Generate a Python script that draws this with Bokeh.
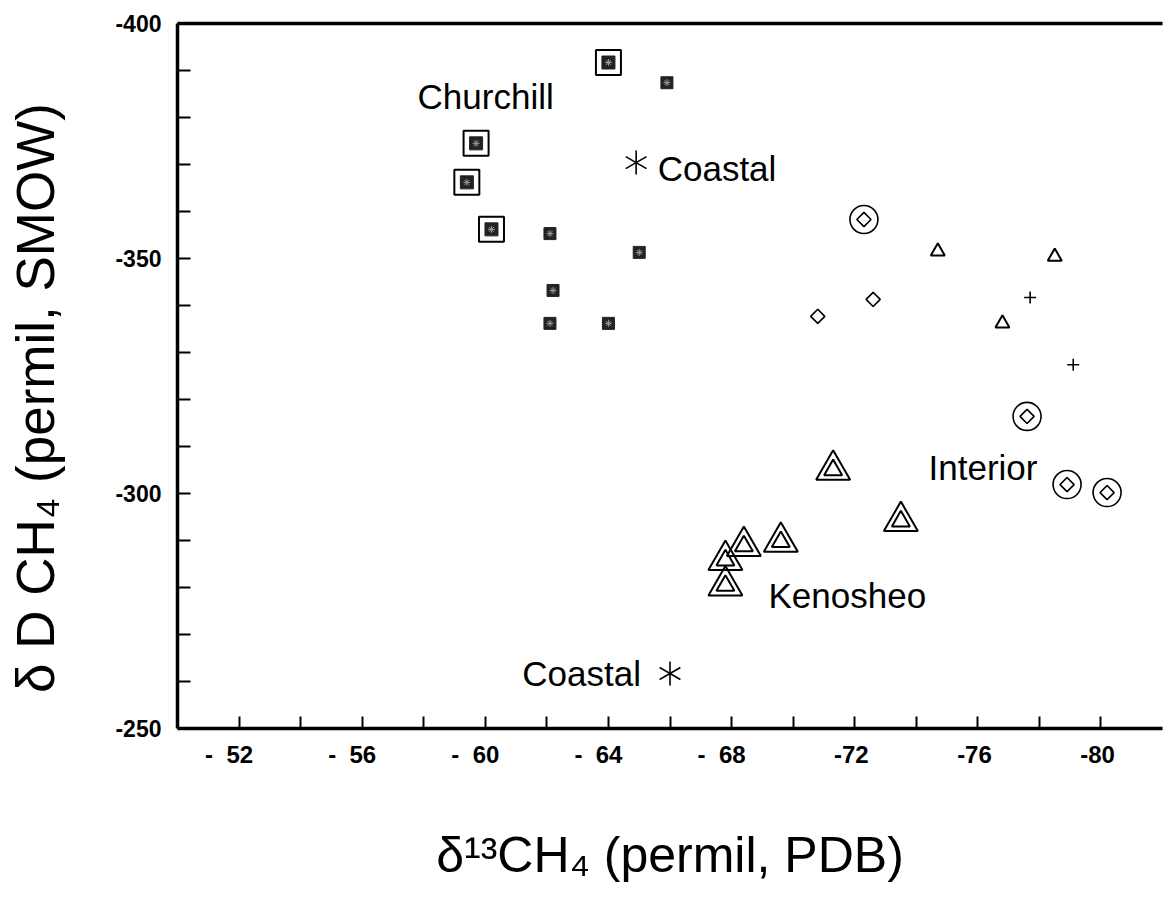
import math
from bokeh.plotting import figure
from bokeh.models import Range1d, FixedTicker, LinearAxis, ColumnDataSource
from bokeh.core.properties import value
from bokeh.embed import file_html
from bokeh.resources import INLINE

# ---------------- data ----------------
churchill_big_x = [-64.0, -59.7, -59.4, -60.2]
churchill_big_y = [-391.7, -374.5, -366.2, -356.2]
churchill_small_x = [-65.9, -62.1, -65.0, -62.2, -62.1, -64.0]
churchill_small_y = [-387.4, -355.3, -351.3, -343.2, -336.2, -336.2]
coastal_x = [-64.9, -66.0]
coastal_y = [-370.4, -261.7]
interior_big_x = [-72.3, -77.6, -78.9, -80.2]
interior_big_y = [-358.3, -316.4, -301.9, -300.2]
interior_diamond_x = [-72.6, -70.8]
interior_diamond_y = [-341.3, -337.7]
interior_tri_x = [-74.7, -78.5, -76.8]
interior_tri_y = [-351.5, -350.4, -336.2]
interior_plus_x = [-77.7, -79.1]
interior_plus_y = [-341.7, -327.4]
kenosheo_x = [-71.3, -73.5, -69.6, -68.4, -67.8, -67.8]
kenosheo_y = [-305.0, -294.1, -289.7, -288.8, -285.8, -280.4]

group_labels = ["Churchill", "Coastal", "Coastal", "Interior", "Kenosheo"]
group_label_x = [-57.8, -65.6, -61.2, -74.4, -69.2]
group_label_y = [-384.5, -369.1, -261.7, -305.5, -278.3]

NB = "\u00a0"
x_ticks = list(range(-52, -81, -2))
x_labeled = [-52, -56, -60, -64, -68, -72, -76, -80]
x_tick_text = ["-" + NB * 2 + "52" + NB * 3, "-" + NB * 2 + "56" + NB * 3,
               "-" + NB * 2 + "60" + NB * 3, "-" + NB * 2 + "64" + NB * 3,
               "-" + NB * 2 + "68" + NB * 3, "-72" + NB, "-76" + NB, "-80" + NB]
y_ticks = list(range(-400, -249, 10))
y_labeled = [-400, -350, -300, -250]
y_tick_text = ["-400", "-350", "-300", "-250"]

x_title = "δ¹³CH₄ (permil, PDB)"
y_title = "δ D CH₄ (permil, SMOW)" + NB * 3

X_START, X_END = -50, -82
Y_START, Y_END = -250, -400

# ---------------- layout ----------------
W, H = 1164, 908
FR_L, FR_R, FR_T, FR_B = 177, 1162, 23, 728
FONT = "Liberation Sans"

p = figure(width=W, height=H, output_backend="svg", toolbar_location=None,
           x_range=Range1d(X_START, X_END), y_range=Range1d(Y_START, Y_END),
           min_border_left=FR_L, min_border_right=W - FR_R,
           min_border_top=FR_T, min_border_bottom=H - FR_B,
           x_axis_location="below", y_axis_location="left")
p.background_fill_color = "white"
p.border_fill_color = "white"
p.outline_line_color = None
p.xgrid.visible = False
p.ygrid.visible = False

xo = {float(t): "" for t in x_ticks}
for t, s in zip(x_labeled, x_tick_text):
    xo[float(t)] = s
yo = {float(t): "" for t in y_ticks}
for t, s in zip(y_labeled, y_tick_text):
    yo[float(t)] = s

xa = p.xaxis[0]
xa.ticker = FixedTicker(ticks=x_ticks)
xa.major_label_overrides = xo
ya = p.yaxis[0]
ya.ticker = FixedTicker(ticks=y_ticks)
ya.major_label_overrides = yo
for ax in (xa, ya):
    ax.axis_line_width = 3.5
    ax.axis_line_color = "black"
    ax.major_tick_in = 12
    ax.major_tick_out = 0
    ax.major_tick_line_width = 2
    ax.major_tick_line_color = "black"
    ax.minor_tick_line_color = None
    ax.major_label_text_font = FONT
    ax.major_label_text_font_style = "bold"
    ax.major_label_text_color = "black"
    ax.axis_label_text_font = FONT
    ax.axis_label_text_font_style = "normal"
    ax.axis_label_text_color = "black"
xa.major_label_text_font_size = "24px"
xa.major_label_standoff = 12
xa.axis_label = x_title
xa.axis_label_text_font_size = "50px"
xa.axis_label_standoff = 56
ya.major_label_text_font_size = "23px"
ya.major_label_standoff = 16
ya.major_tick_in = 13
ya.axis_label = y_title
ya.axis_label_text_font_size = "53px"
ya.axis_label_standoff = 47

top = LinearAxis(ticker=FixedTicker(ticks=[]), axis_line_width=3.5,
                 major_tick_line_color=None, minor_tick_line_color=None,
                 major_label_text_font_size="0px")
p.add_layout(top, "above")

# ---------------- marks ----------------
# Churchill: framed squares and small filled squares
p.scatter(churchill_big_x, churchill_big_y, marker="square", size=25,
          fill_color=None, line_color="black", line_width=2)
p.scatter(churchill_big_x, churchill_big_y, marker="square", size=13,
          fill_color="#222222", line_color="#222222", line_width=1)
p.scatter(churchill_big_x, churchill_big_y, marker="asterisk", size=7,
          line_color="#9a9a9a", line_width=1)
p.scatter(churchill_small_x, churchill_small_y, marker="square", size=12,
          fill_color="#222222", line_color="#222222", line_width=1)
p.scatter(churchill_small_x, churchill_small_y, marker="asterisk", size=7,
          line_color="#9a9a9a", line_width=1)

# Coastal: six-armed asterisks
for ang in (math.pi / 2, math.pi / 6, 5 * math.pi / 6):
    p.scatter(coastal_x, coastal_y, marker="dash", size=24, angle=ang,
              line_color="black", line_width=1.6)

# Interior
p.scatter(interior_big_x, interior_big_y, marker="circle", size=28,
          fill_color=None, line_color="black", line_width=1.6)
p.scatter(interior_big_x, interior_big_y, marker="square", size=10, angle=math.pi / 4,
          fill_color=None, line_color="black", line_width=1.6)
p.scatter(interior_diamond_x, interior_diamond_y, marker="square", size=10, angle=math.pi / 4,
          fill_color=None, line_color="black", line_width=1.6)
p.scatter(interior_tri_x, interior_tri_y, marker="triangle", size=14,
          fill_color=None, line_color="black", line_width=2)
p.scatter(interior_plus_x, interior_plus_y, marker="cross", size=12,
          line_color="black", line_width=1.6)

# Kenosheo: double triangles
p.scatter(kenosheo_x, kenosheo_y, marker="triangle", size=34,
          fill_color=None, line_color="black", line_width=2)
p.scatter(kenosheo_x, kenosheo_y, marker="triangle", size=18,
          fill_color=None, line_color="black", line_width=2)

# group names
src = ColumnDataSource(dict(x=group_label_x, y=group_label_y, t=group_labels))
p.text(x="x", y="y", text="t", source=src, text_font=value(FONT),
       text_font_size="35px", text_align="left", text_baseline="alphabetic",
       text_color="black")

open("out.html", "w").write(file_html(p, INLINE))
